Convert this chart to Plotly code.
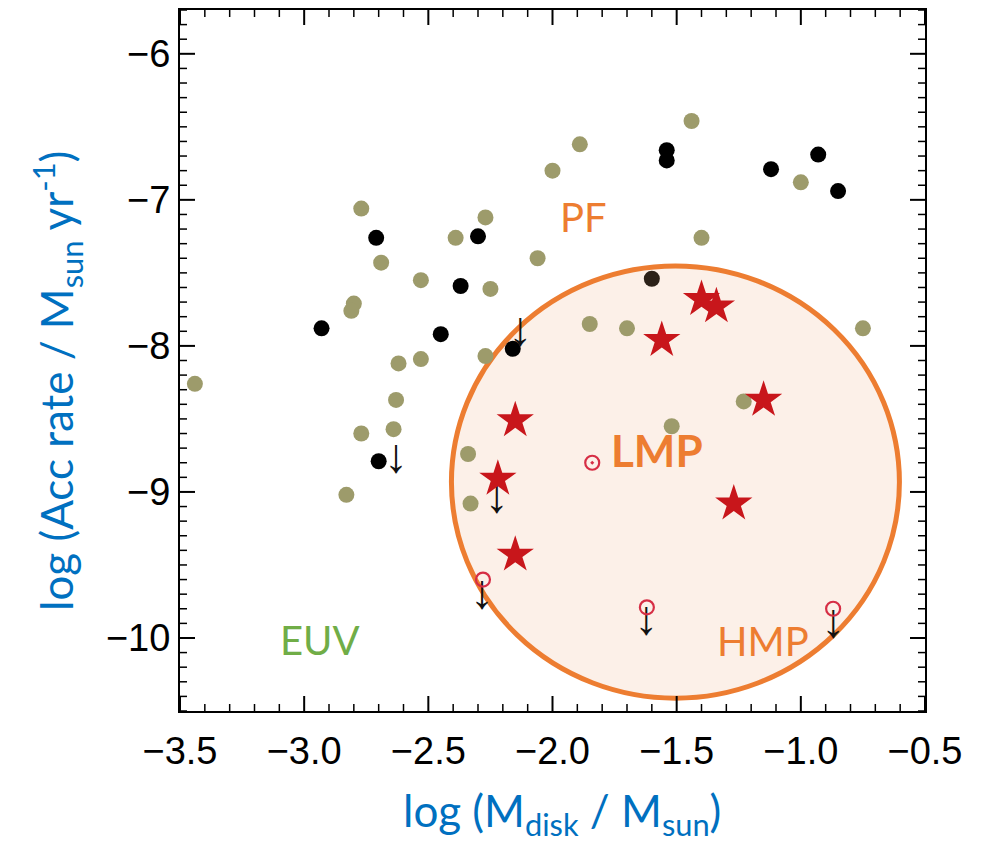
import numpy as np
import plotly.graph_objects as go

# ---- data ----
olive_x = [-2.00, -2.77, -2.27, -2.39, -2.69, -2.06, -2.53, -2.25, -2.80, -2.81,
           -1.44, -1.89, -1.00, -1.40, -1.85, -1.70, -0.75, -3.44, -2.62, -2.53,
           -2.27, -2.63, -2.64, -2.77, -2.83, -2.34, -2.33, -1.23, -1.52]
olive_y = [-6.80, -7.06, -7.12, -7.26, -7.43, -7.40, -7.55, -7.61, -7.71, -7.76,
           -6.46, -6.62, -6.88, -7.26, -7.85, -7.88, -7.88, -8.26, -8.12, -8.09,
           -8.07, -8.37, -8.57, -8.60, -9.02, -8.74, -9.08, -8.38, -8.55]

black_x = [-2.71, -2.30, -2.37, -2.93, -2.45, -2.16, -1.54, -1.54, -1.12, -0.93, -0.85, -2.70]
black_y = [-7.26, -7.25, -7.59, -7.88, -7.92, -8.02, -6.66, -6.73, -6.79, -6.69, -6.94, -8.79]

dark_x = [-1.60]
dark_y = [-7.54]

star_x = [-1.40, -1.34, -1.56, -2.15, -2.22, -2.15, -1.15, -1.27]
star_y = [-7.68, -7.73, -7.96, -8.51, -8.91, -9.43, -8.37, -9.08]

ring_x = [-2.28, -1.84, -1.62, -0.87]
ring_y = [-9.60, -8.80, -9.79, -9.80]
ring_sym = ["circle-open", "circle-open-dot", "circle-open", "circle-open"]

# upper-limit arrows (arrow centres)
limit_x = [-2.13, -2.63, -2.225, -2.284, -1.622, -0.869]
limit_y = [-7.91, -8.78, -9.055, -9.71, -9.89, -9.91]

x_ticks = [-3.5, -3.0, -2.5, -2.0, -1.5, -1.0, -0.5]
y_ticks = [-6, -7, -8, -9, -10]
x_range = [-3.5, -0.5]
y_range = [-10.5, -5.7]

ORANGE = "#ED7D31"
BLUE = "#0070C0"
GREEN = "#70AD47"

W, H = 983, 843
ML, MR, MT, MB = 172, 66, 2, 140        # page body adds 8 px; margins compensate
PW, PH = W - ML - MR, H - MT - MB       # plot area in pixels

fig = go.Figure()

# LMP / HMP region
fig.add_shape(type="circle", xref="x", yref="y",
              x0=-2.407, x1=-0.603, y0=-10.412, y1=-7.453,
              line=dict(color=ORANGE, width=5),
              fillcolor="rgba(250,232,220,0.65)", layer="below")

fig.add_trace(go.Scatter(x=olive_x, y=olive_y, mode="markers",
                         marker=dict(color="#9D9B6B", size=16, line=dict(width=0)),
                         showlegend=False, hoverinfo="skip"))
fig.add_trace(go.Scatter(x=black_x, y=black_y, mode="markers",
                         marker=dict(color="#000000", size=16, line=dict(width=0)),
                         showlegend=False, hoverinfo="skip"))
fig.add_trace(go.Scatter(x=dark_x, y=dark_y, mode="markers",
                         marker=dict(color="#2B2118", size=16, line=dict(width=0)),
                         showlegend=False, hoverinfo="skip"))
fig.add_trace(go.Scatter(x=limit_x, y=limit_y, mode="text", text=["↓"] * len(limit_x),
                         textfont=dict(family="Liberation Sans", size=48, color="#111111"),
                         textposition="middle center",
                         showlegend=False, hoverinfo="skip"))
fig.add_trace(go.Scatter(x=ring_x, y=ring_y, mode="markers",
                         marker=dict(symbol=ring_sym, color="#D62E45", size=14,
                                     line=dict(color="#D62E45", width=2.2)),
                         showlegend=False, hoverinfo="skip"))
fig.add_trace(go.Scatter(x=star_x, y=star_y, mode="markers",
                         marker=dict(symbol="star", color="#C8161B", size=28, line=dict(width=0)),
                         showlegend=False, hoverinfo="skip"))

# ---- inward tick marks on all four sides, drawn as line traces on the axes' scales ----
x_per_px = (x_range[1] - x_range[0]) / PW
y_per_px = (y_range[1] - y_range[0]) / PH
x_minor = np.round(np.arange(x_range[0], x_range[1] + 1e-9, 0.1), 2)
y_minor = np.round(np.arange(y_range[0], y_range[1] + 1e-9, 0.1), 2)


def tick_lines(values, majors, major_len, minor_len, axis):
    out = {True: ([], []), False: ([], [])}
    for v in values:
        is_major = any(abs(v - t) < 1e-6 for t in majors)
        ln = major_len if is_major else minor_len
        xs, ys = out[is_major]
        if axis == "x":
            d = ln * y_per_px
            xs += [v, v, None, v, v, None]
            ys += [y_range[0], y_range[0] + d, None, y_range[1], y_range[1] - d, None]
        else:
            d = ln * x_per_px
            ys += [v, v, None, v, v, None]
            xs += [x_range[0], x_range[0] + d, None, x_range[1], x_range[1] - d, None]
    return out


for axis, vals, majors in (("x", x_minor, x_ticks), ("y", y_minor, y_ticks)):
    res = tick_lines(vals, majors, 15, 7, axis)
    for is_major, (xs, ys) in res.items():
        fig.add_trace(go.Scatter(x=xs, y=ys, mode="lines",
                                 line=dict(color="black", width=2 if is_major else 1.5),
                                 showlegend=False, hoverinfo="skip"))

# region labels
fig.add_annotation(x=-1.877, y=-7.118, text="PF", showarrow=False,
                   font=dict(family="Lato", size=40, color=ORANGE))
fig.add_annotation(x=-2.936, y=-10.013, text="EUV", showarrow=False,
                   font=dict(family="Lato", size=40, color=GREEN))
fig.add_annotation(x=-1.580, y=-8.713, text="<b>LMP</b>", showarrow=False,
                   font=dict(family="Lato", size=44, color=ORANGE))
fig.add_annotation(x=-1.154, y=-10.02, text="HMP", showarrow=False,
                   font=dict(family="Lato", size=40, color=ORANGE))

# axis titles
fig.add_annotation(xref="paper", yref="paper", x=0.5128, y=0, yanchor="middle",
                   yshift=-102, showarrow=False,
                   text="log (M<sub>disk</sub> / M<sub>sun</sub>)",
                   font=dict(family="Lato", size=44, color=BLUE))
fig.add_annotation(xref="paper", yref="paper", x=0, y=0.4708, xanchor="center",
                   yanchor="middle", xshift=-122, textangle=-90, showarrow=False,
                   text="log (Acc rate / M<sub>sun</sub> yr<sup>-1</sup>)",
                   font=dict(family="Lato", size=44, color=BLUE))

axis_common = dict(showline=True, linecolor="black", linewidth=2, mirror=True,
                   ticks="", showgrid=False, zeroline=False, automargin=False,
                   tickfont=dict(family="Liberation Sans", size=38, color="black"))

fig.update_xaxes(range=x_range, tickmode="linear", tick0=x_ticks[0],
                 dtick=x_ticks[1] - x_ticks[0], tickformat=".1f",
                 ticklabelstandoff=5, **axis_common)
fig.update_yaxes(range=y_range, tickmode="linear", tick0=y_ticks[-1],
                 dtick=y_ticks[0] - y_ticks[1], tickformat="d",
                 ticklabelstandoff=0, **axis_common)

fig.update_layout(width=W, height=H, margin=dict(l=ML, r=MR, t=MT, b=MB),
                  plot_bgcolor="white", paper_bgcolor="white")

fig.write_html("out.html")
